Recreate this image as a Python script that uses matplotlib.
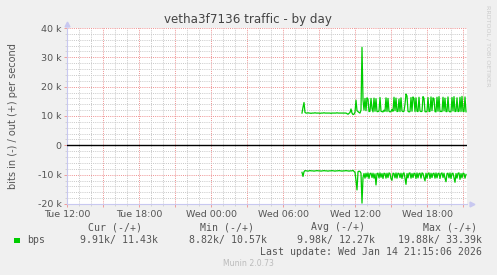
import numpy as np
import matplotlib
matplotlib.use('Agg')
import matplotlib.pyplot as plt
from matplotlib.patches import Rectangle

W, H = 497, 275

TITLE = "vetha3f7136 traffic - by day"
YLABEL = "bits in (-) / out (+) per second"

# hours since Tue 12:00
TICK_HOURS = [0, 6, 12, 18, 24, 30]
TICK_LABELS = ["Tue 12:00", "Tue 18:00", "Wed 00:00", "Wed 06:00", "Wed 12:00", "Wed 18:00"]
LAST_SAMPLE_H = 33.25  # Wed 21:15
STEP_H = 5 / 60

# out (+), in kbit/s, 5 minute samples
out_k = [
    11.0, 13.0, 14.6, 11.2,
    11.0, 11.0, 11.1, 11.0, 11.0, 10.9, 11.0, 11.0, 11.0, 11.1,
    11.0, 11.0, 11.0, 11.0, 10.9, 11.0, 11.0, 11.0, 11.1, 11.0,
    11.0, 11.0, 11.0, 11.0, 11.0, 10.9, 11.0, 11.0, 11.0, 11.0,
    11.0, 11.1, 11.0, 11.0, 11.0, 11.0, 11.0, 11.0, 11.0, 11.0,
    11.0,
    10.8, 10.6, 10.9, 11.2, 12.4, 11.0, 10.5, 10.6, 11.3, 15.4,
    11.8, 11.5, 11.2, 11.0, 12.0,
    33.4,
    15.5, 12.0, 16.0, 11.8, 16.2, 15.8, 11.5, 11.6, 16.0, 12.5,
    11.4, 16.1, 11.6, 15.9, 11.5, 11.5, 11.7, 16.3, 11.6, 11.5,
    11.4, 12.0, 11.6, 16.2, 11.5, 16.0, 11.6, 11.4, 11.5, 12.3,
    11.6, 16.4, 11.8, 16.1, 11.5, 11.6, 15.8, 11.5, 16.2, 11.7,
    11.5, 11.6, 14.0, 17.5, 16.8, 11.6, 11.4, 11.5, 16.3, 11.6,
    16.5, 16.0, 11.5, 16.2, 11.6, 11.5, 16.4, 11.7, 11.5, 11.6,
    16.6, 16.0, 11.5, 11.4, 11.6, 16.3, 11.5, 11.6, 16.5, 11.8,
    16.2, 15.9, 11.5, 11.4, 16.4, 11.6, 16.6, 11.5, 11.6, 11.5,
    16.4, 11.7, 16.1, 11.5, 11.5, 16.5, 11.6, 11.4, 11.5, 16.3,
    11.7, 16.6, 11.5, 11.6, 16.2, 11.5, 11.6, 16.4, 11.5, 16.7,
    11.6, 11.5, 16.5, 11.43,
]

# in (-), in kbit/s, drawn below zero
in_k = [
    -9.2, -10.6, -9.0, -8.6,
    -8.7, -8.7, -8.8, -8.7, -8.6, -8.7, -8.7, -8.7, -8.8, -8.7,
    -8.7, -8.6, -8.7, -8.7, -8.7, -8.8, -8.7, -8.7, -8.6, -8.7,
    -8.7, -8.7, -8.8, -8.7, -8.7, -8.7, -8.6, -8.7, -8.7, -8.8,
    -8.7, -8.7, -8.7, -8.6, -8.7, -8.7, -8.8, -8.7, -8.7, -8.7,
    -8.6, -8.7, -8.7, -8.8, -8.7, -8.7, -8.7,
    -8.5, -8.9, -9.2, -12.0, -15.2, -9.0, -8.8, -8.9, -9.5,
    -19.7,
    -11.0,
    -9.6, -11.2, -9.5, -10.8, -9.4, -11.3, -9.6, -9.5, -11.0, -9.5,
    -11.2, -9.7, -13.5, -9.6, -9.5, -11.1, -9.4, -10.9, -9.6, -11.3,
    -9.5, -9.6, -11.2, -9.5, -11.0, -9.4, -9.6, -11.4, -11.9, -9.5,
    -9.6, -11.1, -9.4, -11.2, -9.5, -9.6, -11.0, -9.5, -11.3, -9.6,
    -9.4, -11.2, -13.3, -9.6, -11.1, -9.5, -9.4, -11.2, -9.6, -11.0,
    -9.5, -9.6, -11.3, -9.4, -11.1, -9.6, -9.5, -11.2, -9.4, -9.6,
    -11.0, -12.1, -9.5, -11.2, -9.6, -9.4, -11.3, -9.5, -11.0, -9.6,
    -9.5, -11.2, -9.4, -11.1, -9.6, -9.5, -11.3, -9.6, -9.4, -11.0,
    -9.5, -11.2, -12.4, -9.6, -9.5, -11.1, -9.4, -11.3, -9.6, -9.5,
    -11.0, -12.6, -9.6, -11.2, -9.5, -9.4, -11.6, -9.6, -11.1, -9.5,
    -9.6, -11.2, -9.91,
]

LEGEND_HEAD = ["Cur (-/+)", "Min (-/+)", "Avg (-/+)", "Max (-/+)"]
LEGEND_VALS = ["9.91k/ 11.43k", "8.82k/ 10.57k", "9.98k/ 12.27k", "19.88k/ 33.39k"]
LAST_UPDATE = "Last update: Wed Jan 14 21:15:06 2026"
MUNIN = "Munin 2.0.73"

GREEN = "#00CC00"
TEXT = "#555555"
AXIS = "#C8C8F0"
MAJOR = "#EE9090"
MINOR = "#C8C8C8"


def px(x, y):
    return x / W, 1 - y / H


def series_times(n):
    return LAST_SAMPLE_H - STEP_H * np.arange(n - 1, -1, -1)


def main():
    fig = plt.figure(figsize=(W / 100, H / 100), dpi=100, facecolor="#F0F0F0")
    x0, y1 = px(67, 28)
    x1, y0 = px(467, 204)
    ax = fig.add_axes([x0, y0, x1 - x0, y1 - y0])
    ax.set_facecolor("white")

    ax.set_xlim(0, 400 / 12)
    ax.set_ylim(-20000, 40000)

    # grid: gray every hour / 2k, red every 3h / 10k
    ax.set_xticks(np.arange(0, 34, 1), minor=True)
    ax.set_xticks(np.arange(0, 34, 3))
    ax.set_xticklabels([TICK_LABELS[TICK_HOURS.index(h)] if h in TICK_HOURS else ""
                        for h in range(0, 34, 3)])
    ax.set_yticks(np.arange(-20000, 40001, 2000), minor=True)
    ax.set_yticks(np.arange(-20000, 40001, 10000))
    ax.set_yticklabels([f"{int(v / 1000)} k" if v else "0"
                        for v in range(-20000, 40001, 10000)])

    ax.grid(which="minor", color=MINOR, lw=0.7, ls=(0, (1, 1.2)))
    ax.grid(which="major", color=MAJOR, lw=0.7, ls=(0, (1, 1.2)))
    ax.set_axisbelow(True)

    ax.tick_params(which="major", length=2, width=0.6, color=MAJOR,
                   labelsize=6.8, labelcolor=TEXT, pad=2)
    ax.tick_params(which="minor", length=1.5, width=0.5, color=MINOR)

    for side in ("top", "right"):
        ax.spines[side].set_visible(False)
    for side in ("left", "bottom"):
        ax.spines[side].set_color(AXIS)
        ax.spines[side].set_linewidth(0.8)
    ax.plot([0], [1.025], marker="^", color=AXIS, ms=3.5, transform=ax.transAxes, clip_on=False)
    ax.plot([1.012], [0], marker=">", color=AXIS, ms=3.5, transform=ax.transAxes, clip_on=False)

    ax.axhline(0, color="black", lw=1.0, zorder=3)

    t_out = series_times(len(out_k))
    t_in = series_times(len(in_k))
    ax.plot(t_out, np.array(out_k) * 1000, color=GREEN, lw=0.9, zorder=4)
    ax.plot(t_in, np.array(in_k) * 1000, color=GREEN, lw=0.9, zorder=4)

    ax.set_ylabel(YLABEL, fontsize=7, color=TEXT)
    ax.yaxis.set_label_coords(-0.122, 0.5)

    fig.text(*px(248, 19), TITLE, ha="center", va="center", fontsize=8.6, color="#444444")
    fig.text(*px(488, 5), "RRDTOOL / TOBI OETIKER", ha="center", va="top", rotation=270,
             fontsize=4.6, color="#CCCCCC")

    mono = dict(family="DejaVu Sans Mono", fontsize=7.1, color=TEXT, va="center")
    for head, right in zip(LEGEND_HEAD, [142, 254, 365, 477]):
        fig.text(*px(right, 227), head, ha="right", **mono)
    for val, right in zip(LEGEND_VALS, [158, 267, 375, 482]):
        fig.text(*px(right, 240), val, ha="right", **mono)
    fig.text(*px(27, 240), "bps", ha="left", **mono)
    fig.patches.append(Rectangle(px(14, 243), 6 / W, 5 / H, transform=fig.transFigure,
                                 facecolor=GREEN, edgecolor="none"))
    fig.text(*px(482, 252), LAST_UPDATE, ha="right", **mono)
    fig.text(*px(248, 264), MUNIN, ha="center", va="center", fontsize=5.6, color="#BBBBBB")

    fig.savefig("out.png", dpi=100, facecolor=fig.get_facecolor())
    plt.close(fig)


if __name__ == "__main__":
    main()
